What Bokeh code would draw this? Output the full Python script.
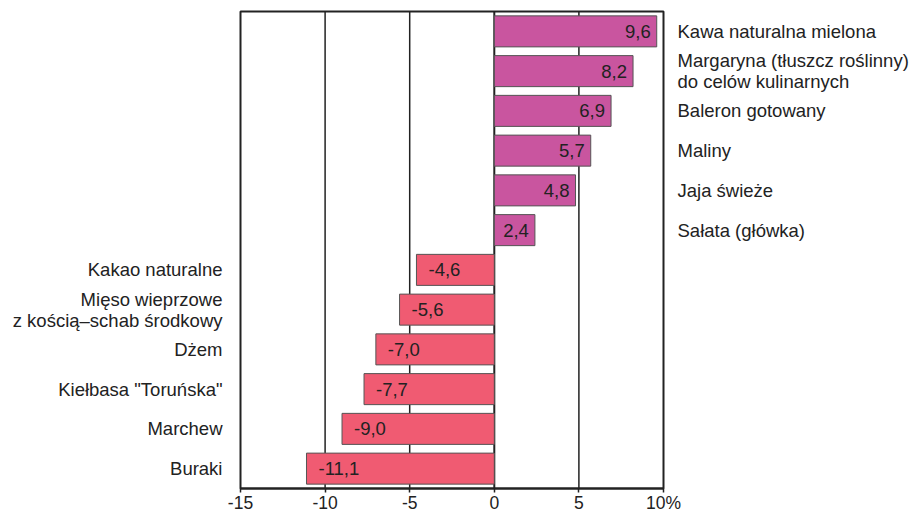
from bokeh.plotting import figure
from bokeh.models import Range1d, LinearAxis, FixedTicker, ColumnDataSource, Span
from bokeh.embed import file_html
from bokeh.resources import INLINE
from bokeh.core.properties import value

categories = [
    "Kawa naturalna mielona",
    "Margaryna (tłuszcz roślinny)\ndo celów kulinarnych",
    "Baleron gotowany",
    "Maliny",
    "Jaja świeże",
    "Sałata (główka)",
    "Kakao naturalne",
    "Mięso wieprzowe\nz kością–schab środkowy",
    "Dżem",
    "Kiełbasa \"Toruńska\"",
    "Marchew",
    "Buraki",
]
values = [9.6, 8.2, 6.9, 5.7, 4.8, 2.4, -4.6, -5.6, -7.0, -7.7, -9.0, -11.1]
value_labels = ["9,6", "8,2", "6,9", "5,7", "4,8", "2,4", "-4,6", "-5,6", "-7,0", "-7,7", "-9,0", "-11,1"]
x_ticks = [-15, -10, -5, 0, 5, 10]
x_tick_labels = ["-15", "-10", "-5", "0", "5", "10%"]

FONT = "Liberation Sans"
POS = "#c9559f"
NEG = "#f05b72"
FS = "18.5px"

n = len(categories)
ypos = [i + 0.5 for i in range(n)]

p = figure(frame_width=423, height=515, output_backend="svg", toolbar_location=None,
           x_range=Range1d(-15, 10), y_range=Range1d(n, 0),
           min_border_left=240, min_border_right=240, min_border_top=11, min_border_bottom=0,
           y_axis_location=None)
p.background_fill_color = None
p.border_fill_color = "white"
p.outline_line_color = "#222222"
p.outline_line_width = 2
p.grid.visible = False

# x axis
p.xaxis.ticker = FixedTicker(ticks=x_ticks)
p.xaxis.major_label_overrides = {t: l for t, l in zip(x_ticks, x_tick_labels)}
p.xaxis.major_label_text_font = FONT
p.xaxis.major_label_text_font_size = "17.5px"
p.xaxis.major_label_text_color = "#222222"
p.xaxis.major_tick_in = 0
p.xaxis.major_tick_out = 4
p.xaxis.minor_tick_line_color = None
p.xaxis.axis_line_color = "#222222"
p.xaxis.axis_line_width = 2
p.xaxis.major_tick_line_color = "#222222"
p.xaxis.major_tick_line_width = 1.5
p.xaxis.major_label_standoff = 0

# gridlines
for t in x_ticks[1:-1]:
    p.add_layout(Span(location=t, dimension="height", line_color="#222222",
                      line_width=2 if t == 0 else 1.5, level="underlay"))

src = ColumnDataSource(dict(
    y=ypos, v=values, zero=[0] * n, lab=value_labels,
    color=[POS if v > 0 else NEG for v in values],
))
p.hbar(y="y", left="zero", right="v", height=0.78, source=src,
       fill_color="color", line_color="#555555", line_width=1)

# value labels
pos_idx = [i for i in range(n) if values[i] > 0]
neg_idx = [i for i in range(n) if values[i] < 0]
ps = ColumnDataSource(dict(x=[values[i] for i in pos_idx], y=[ypos[i] for i in pos_idx],
                           t=[value_labels[i] for i in pos_idx]))
ns = ColumnDataSource(dict(x=[values[i] for i in neg_idx], y=[ypos[i] for i in neg_idx],
                           t=[value_labels[i] for i in neg_idx]))
p.text(x="x", y="y", text="t", source=ps, text_align="right", text_baseline="middle",
       x_offset=-6, text_font=value(FONT), text_font_size=FS, text_color="#222222")
p.text(x="x", y="y", text="t", source=ns, text_align="left", text_baseline="middle",
       x_offset=12, text_font=value(FONT), text_font_size=FS, text_color="#222222")

# category axes
left_ax = LinearAxis(ticker=FixedTicker(ticks=[ypos[i] for i in neg_idx]),
                     major_label_overrides={ypos[i]: categories[i] for i in neg_idx})
right_ax = LinearAxis(ticker=FixedTicker(ticks=[ypos[i] for i in pos_idx]),
                      major_label_overrides={ypos[i]: categories[i] for i in pos_idx})
for ax, st in ((left_ax, 18), (right_ax, 14)):
    ax.axis_line_color = None
    ax.major_tick_line_color = None
    ax.minor_tick_line_color = None
    ax.major_tick_in = 0
    ax.major_tick_out = 0
    ax.major_label_standoff = st
    ax.major_label_text_font = FONT
    ax.major_label_text_font_size = FS
    ax.major_label_text_color = "#222222"
    ax.major_label_text_line_height = 1.0
p.add_layout(left_ax, "left")
p.add_layout(right_ax, "right")

open("out.html", "w").write(file_html(p, INLINE))
